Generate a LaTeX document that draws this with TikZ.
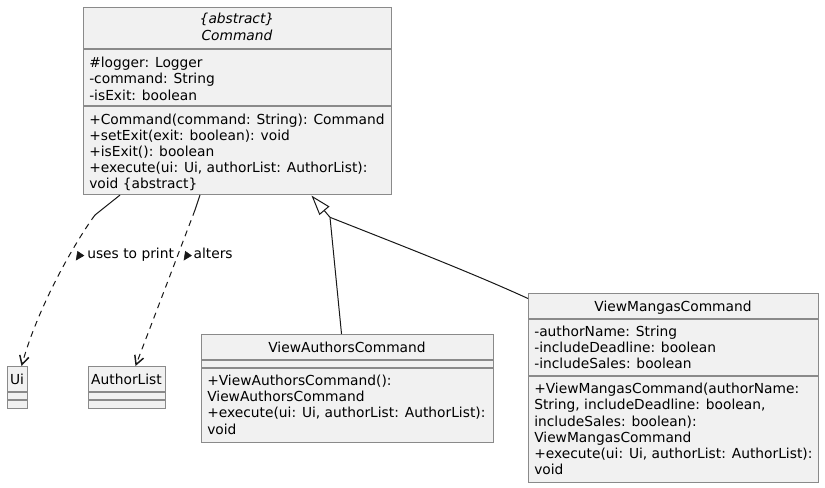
\documentclass[tikz,border=0pt]{standalone}
\usepackage{fontspec}
\setmainfont{DejaVu Sans}
\usetikzlibrary{arrows.meta,calc}
\definecolor{boxfill}{HTML}{F1F1F1}
\definecolor{boxline}{HTML}{8A8A8A}
\definecolor{ink}{HTML}{181818}
\tikzset{
  umlbox/.style={draw=boxline, fill=boxfill, line width=0.8pt, inner sep=0pt, rectangle, anchor=north west},
  sepline/.style={draw=boxline, line width=0.8pt},
  txt/.style={inner sep=0pt, anchor=base west, font=\fontsize{10.35pt}{12pt}\selectfont, text=black},
  ctxt/.style={txt, anchor=base},
  itxt/.style={ctxt, font=\fontsize{10.35pt}{12pt}\selectfont\itshape},
  depsolid/.style={draw=ink, line width=0.75pt},
  dep/.style={draw=ink, line width=0.75pt, dash pattern=on 4.5pt off 3.75pt},
  openarrow/.style={-{Straight Barb[length=6.5pt,width=7pt,line width=1.1pt]}},
  inherit/.style={draw=ink, line width=0.75pt},
  inherittip/.style={draw=ink, line width=0.75pt, -{Triangle[open,length=15pt,width=9.75pt,fill=white,line width=0.75pt]}},
  labtri/.style={fill=ink, draw=ink, line width=0.4pt, line join=miter}
}
\newcommand\umlclassbox[5]{\node[umlbox, minimum width=#4*0.75pt, minimum height=#5*0.75pt] (#1) at (#2,#3) {};}
\begin{document}
\begin{tikzpicture}[x=0.75pt, y=-0.75pt]
\useasboundingbox (0,0) rectangle (825,487);
\fill[white] (0,0) rectangle (825,487);

% ---------- Command ----------
\umlclassbox{cmd}{83}{7}{308}{187}
\draw[sepline] ($(cmd.north west)+(0,42)$) -- ($(cmd.north east)+(0,42)$);
\draw[sepline] ($(cmd.north west)+(0,99)$) -- ($(cmd.north east)+(0,99)$);
\node[itxt] (cmdT1) at (237,23.8) {\{abstract\}};
\node[itxt] (cmdT2) at (237,40) {Command};
\node[txt] (cmdA1) at (89,67.6) {\#logger: Logger};
\node[txt] (cmdA2) at (89,83.8) {-command: String};
\node[txt] (cmdA3) at (89,100) {-isExit: boolean};
\node[txt] (cmdM1) at (89,124) {+Command(command: String): Command};
\node[txt] (cmdM2) at (89,140.2) {+setExit(exit: boolean): void};
\node[txt] (cmdM3) at (89,156.4) {+isExit(): boolean};
\node[txt] (cmdM4) at (89,172.6) {+execute(ui: Ui, authorList: AuthorList):};
\node[txt] (cmdM5) at (89,188.8) {void \{abstract\}};

% ---------- Ui ----------
\umlclassbox{ui}{7}{366}{20}{42}
\draw[sepline] ($(ui.north west)+(0,26)$) -- ($(ui.north east)+(0,26)$);
\draw[sepline] ($(ui.north west)+(0,34)$) -- ($(ui.north east)+(0,34)$);
\node[ctxt] (uiT) at (17,384) {Ui};

% ---------- AuthorList ----------
\umlclassbox{al}{88}{366}{77}{42}
\draw[sepline] ($(al.north west)+(0,26)$) -- ($(al.north east)+(0,26)$);
\draw[sepline] ($(al.north west)+(0,34)$) -- ($(al.north east)+(0,34)$);
\node[ctxt] (alT) at (126.5,384) {AuthorList};

% ---------- ViewAuthorsCommand ----------
\umlclassbox{vac}{201}{334}{292}{108}
\draw[sepline] ($(vac.north west)+(0,26)$) -- ($(vac.north east)+(0,26)$);
\draw[sepline] ($(vac.north west)+(0,34)$) -- ($(vac.north east)+(0,34)$);
\node[ctxt] (vacT) at (347,352.5) {ViewAuthorsCommand};
\node[txt] (vacM1) at (207,385.5) {+ViewAuthorsCommand():};
\node[txt] (vacM2) at (207,401.7) {ViewAuthorsCommand};
\node[txt] (vacM3) at (207,417.9) {+execute(ui: Ui, authorList: AuthorList):};
\node[txt] (vacM4) at (207,434.1) {void};

% ---------- ViewMangasCommand ----------
\umlclassbox{vmc}{528}{293}{290}{189}
\draw[sepline] ($(vmc.north west)+(0,26)$) -- ($(vmc.north east)+(0,26)$);
\draw[sepline] ($(vmc.north west)+(0,83)$) -- ($(vmc.north east)+(0,83)$);
\node[ctxt] (vmcT) at (673,311.5) {ViewMangasCommand};
\node[txt] (vmcA1) at (534,336) {-authorName: String};
\node[txt] (vmcA2) at (534,352.2) {-includeDeadline: boolean};
\node[txt] (vmcA3) at (534,368.4) {-includeSales: boolean};
\node[txt] (vmcM1) at (534,393.6) {+ViewMangasCommand(authorName:};
\node[txt] (vmcM2) at (534,409.8) {String, includeDeadline: boolean,};
\node[txt] (vmcM3) at (534,426) {includeSales: boolean):};
\node[txt] (vmcM4) at (534,442.2) {ViewMangasCommand};
\node[txt] (vmcM5) at (534,458.4) {+execute(ui: Ui, authorList: AuthorList):};
\node[txt] (vmcM6) at (534,474.6) {void};

% ---------- inheritance ----------
\coordinate (apex) at ($(cmd.south west)+(228.5,0.5)$);
\coordinate (junc) at (330,217.3);
\coordinate (vacIn) at ($(vac.north)+(-6,0)$);
\coordinate (vmcIn) at ($(vmc.north west)+(0,5.5)$);
\draw[inherit] (vacIn) -- (junc);
\draw[inherit] (vmcIn) .. controls (470,272) and (400,245) .. (junc);
\draw[inherittip] (junc) -- (apex);

% ---------- dependencies ----------
\coordinate (usesStart) at ($(cmd.south west)+(37,0)$);
\coordinate (usesBend) at (95,215);
\coordinate (usesEnd) at ($(ui.north)+(4,0)$);
\draw[depsolid] (usesStart) -- (usesBend);
\draw[dep, openarrow] (usesBend) .. controls (80,235) and (40,300) .. (usesEnd);

\coordinate (altStart) at ($(cmd.south west)+(117,0)$);
\coordinate (altBend) at (195,210);
\coordinate (altEnd) at ($(al.north)+(8.5,0)$);
\draw[depsolid] (altStart) -- (altBend);
\draw[dep, openarrow] (altBend) -- (altEnd);

% ---------- labels ----------
\filldraw[labtri] (77.6,251.4) -- (83.8,255.6) -- (76.2,260) -- cycle;
\node[txt] (usesLab) at (87,258.3) {uses to print};
\filldraw[labtri] (185.4,251.4) -- (191.4,255.6) -- (184,260) -- cycle;
\node[txt] (altLab) at (193.3,258.3) {alters};
\end{tikzpicture}
\end{document}
